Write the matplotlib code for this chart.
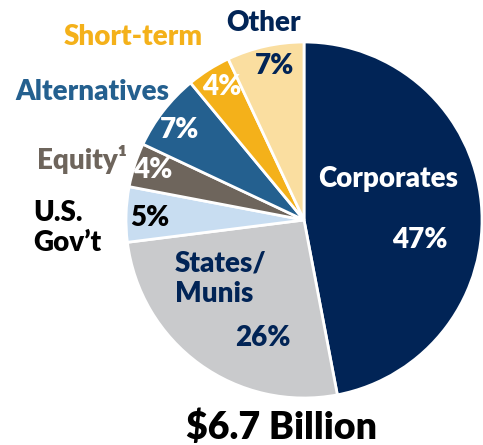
import matplotlib.pyplot as plt

# 数据
labels = ['Corporates', 'States/\nMunis', 'U.S.\nGov\u2019t', 'Equity\u00b9', 'Alternatives', 'Short-term', 'Other']
values = [47, 26, 5, 4, 7, 4, 7]
colors = ['#012456', '#C9CACC', '#C8DDF1', '#6E655C', '#24608F', '#F4B11A', '#FADEA0']
explode = [0.02, 0, 0, 0, 0, 0, 0]
total_label = '$6.7 Billion'

plt.rcParams['font.family'] = ['Lato', 'DejaVu Sans']

W, H = 483, 445
fig = plt.figure(figsize=(W / 100, H / 100), dpi=100)
ax = fig.add_axes([0, 0, 1, 1])

cx, cy, r = 304, H - 220, 178
wedges, _ = ax.pie(values, colors=colors, explode=explode, startangle=90,
                   counterclock=False, center=(cx, cy), radius=r,
                   wedgeprops=dict(edgecolor='white', linewidth=2), frame=True)
ax.set_xlim(0, W)
ax.set_ylim(0, H)
ax.set_aspect('equal')
ax.set_axis_off()

navy = '#012456'


def t(x, y, s, color, size=20, ha='center', **kw):
    ax.text(x, H - y, s, color=color, fontsize=size, fontweight='heavy',
            ha=ha, va='center', **kw)


# 外部标签
t(264, 23, 'Other', navy)
t(133, 37, 'Short-term', '#F4B11A')
t(92, 92, 'Alternatives', '#24608F')
t(82, 160, labels[3], '#6E655C')
t(33, 228, labels[2], 'black', ha='left', linespacing=1.2)

# 扇区内标签
t(275, 66, f'{values[6]}%', navy)
t(222, 87, f'{values[5]}%', 'white')
t(180, 130, f'{values[4]}%', 'white')
t(153, 170, f'{values[3]}%', 'white')
t(150, 218, f'{values[2]}%', 'black')
t(388, 179, labels[0], 'white')
t(420, 240, f'{values[0]}%', 'white')
t(175, 279, labels[1], navy, ha='left', linespacing=1.2)
t(263, 338, f'{values[1]}%', navy)

t(282, 427, total_label, 'black', 27)

fig.savefig('out.png', dpi=100)
